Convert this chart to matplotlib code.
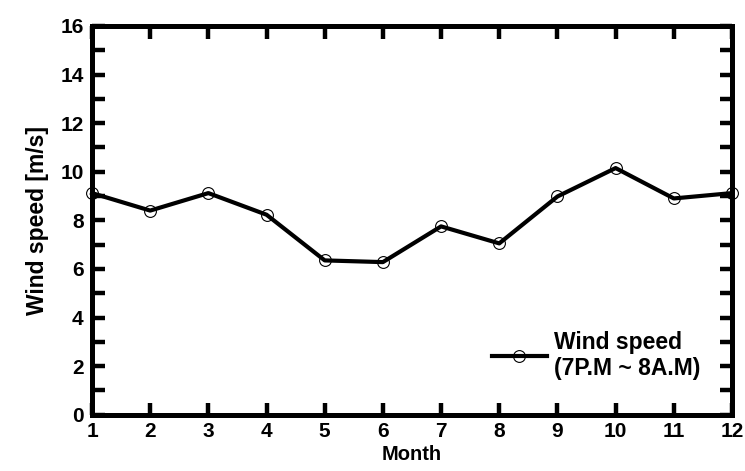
import matplotlib
matplotlib.use("Agg")
import matplotlib.pyplot as plt
from matplotlib.ticker import MultipleLocator

plt.rcParams['font.family'] = ['Liberation Sans', 'DejaVu Sans']
plt.rcParams['font.weight'] = 'bold'

months = [1, 2, 3, 4, 5, 6, 7, 8, 9, 10, 11, 12]
wind_speed = [9.12, 8.4, 9.12, 8.23, 6.35, 6.28, 7.75, 7.05, 8.98, 10.15, 8.9, 9.12]
legend_label = 'Wind speed\n(7P.M ~ 8A.M)'

fig = plt.figure(figsize=(7.45, 4.71), dpi=100)
ax = fig.add_axes([0.1235, 0.1195, 0.859, 0.8255])

ax.plot(months, wind_speed, color='black', lw=3, marker='o', ms=8.5,
        mfc='none', mec='black', mew=0.8, clip_on=False, label=legend_label)

ax.set_xlim(1, 12)
ax.set_ylim(0, 16)
ax.xaxis.set_major_locator(MultipleLocator(1))
ax.yaxis.set_major_locator(MultipleLocator(2))
ax.yaxis.set_minor_locator(MultipleLocator(1))

for s in ax.spines.values():
    s.set_linewidth(3.6)
ax.tick_params(which='both', direction='in', top=True, right=True,
               width=3.2, labelsize=15, length=9)
ax.tick_params(axis='x', pad=5)
ax.tick_params(axis='y', pad=6)

ax.set_xlabel('Month', fontsize=14.5, fontweight='bold', labelpad=3)
ax.set_ylabel('Wind speed [m/s]', fontsize=16.5, fontweight='bold', labelpad=8)

ax.legend(loc='lower right', frameon=False, fontsize=16.5, handlelength=2.4,
          handletextpad=0.3, borderpad=0, borderaxespad=0, labelspacing=0.2,
          bbox_to_anchor=(0.95, 0.089))

fig.savefig('out.png', dpi=100)
